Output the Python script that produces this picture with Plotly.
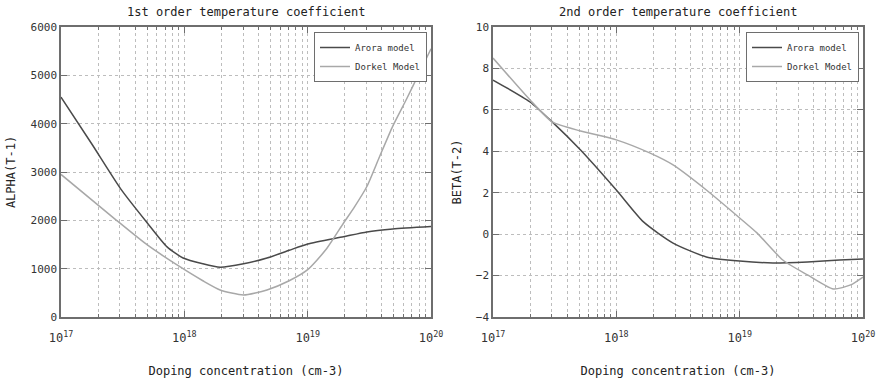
import numpy as np
import plotly.graph_objects as go

# ---- data (x given as log10 of doping concentration) ----
alpha_arora_exp = [17.0, 17.25, 17.49, 17.70, 17.86, 17.99, 18.15, 18.29, 18.48, 18.67, 18.85, 19.0, 19.29, 19.48, 19.69, 20.0]
alpha_arora = [4550, 3580, 2630, 1945, 1450, 1220, 1100, 1030, 1100, 1220, 1380, 1510, 1660, 1760, 1820, 1870]

alpha_dorkel_exp = [17.0, 17.45, 17.70, 17.97, 18.15, 18.29, 18.48, 18.67, 18.85, 19.0, 19.15, 19.29, 19.38, 19.48, 19.58, 19.69, 19.80, 19.89, 20.0]
alpha_dorkel = [2950, 2000, 1490, 1030, 750, 560, 455, 560, 750, 980, 1400, 1940, 2280, 2700, 3300, 3950, 4500, 4970, 5550]

beta_arora_exp = [17.0, 17.3, 17.48, 17.71, 18.0, 18.22, 18.46, 18.73, 19.0, 19.27, 19.55, 19.81, 20.0]
beta_arora = [7.44, 6.38, 5.42, 4.06, 2.13, 0.59, -0.43, -1.1, -1.3, -1.39, -1.34, -1.25, -1.2]

beta_dorkel_exp = [17.0, 17.3, 17.48, 17.71, 18.0, 18.27, 18.46, 18.73, 19.0, 19.14, 19.35, 19.55, 19.76, 19.9, 20.0]
beta_dorkel = [8.5, 6.48, 5.42, 4.98, 4.55, 3.92, 3.34, 2.13, 0.78, 0.06, -1.25, -1.97, -2.65, -2.45, -2.07]

decades = [17, 18, 19, 20]
series_names = ["Arora model", "Dorkel Model"]
titles = ["1st order temperature coefficient", "2nd order temperature coefficient"]
ytitles = ["ALPHA(T-1)", "BETA(T-2)"]
xtitle = "Doping concentration (cm-3)"

# ---- styling ----
FONT = "DejaVu Sans Mono"
C_AR = "#4a4a4a"
C_DO = "#a8a8a8"
AX = "#6e6e6e"
GRID = "#bdbdbd"

major_vals = [10.0 ** d for d in decades]
major_text = ["10<sup>%d</sup>" % d for d in decades]
minor_vals = [m * 10.0 ** d for d in decades[:-1] for m in range(2, 10)]

fig = go.Figure()

def xs(e):
    return [10.0 ** v for v in e]

line_kw = dict(width=1.5, shape="spline", smoothing=0.6)
fig.add_trace(go.Scatter(x=xs(alpha_arora_exp), y=alpha_arora, mode="lines", name=series_names[0],
                         line=dict(color=C_AR, **line_kw), xaxis="x", yaxis="y", legend="legend"))
fig.add_trace(go.Scatter(x=xs(alpha_dorkel_exp), y=alpha_dorkel, mode="lines", name=series_names[1],
                         line=dict(color=C_DO, **line_kw), xaxis="x", yaxis="y", legend="legend"))
fig.add_trace(go.Scatter(x=xs(beta_arora_exp), y=beta_arora, mode="lines", name=series_names[0],
                         line=dict(color=C_AR, **line_kw), xaxis="x2", yaxis="y2", legend="legend2"))
fig.add_trace(go.Scatter(x=xs(beta_dorkel_exp), y=beta_dorkel, mode="lines", name=series_names[1],
                         line=dict(color=C_DO, **line_kw), xaxis="x2", yaxis="y2", legend="legend2"))

ydom = [1 - 317 / 380, 1 - 27 / 380]
xdom1 = [61 / 878, 431 / 878]
xdom2 = [493 / 878, 863 / 878]

def xaxis(dom, anchor):
    return dict(domain=dom, anchor=anchor, type="log", automargin=False,
                range=[decades[0], decades[-1]],
                tickmode="array", tickvals=major_vals, ticktext=major_text,
                ticks="inside", ticklen=6, tickcolor=AX,
                ticklabelstandoff=9,
                showline=True, linecolor=AX, linewidth=1.5, mirror="ticks",
                showgrid=True, gridcolor=GRID, griddash="dot", gridwidth=1,
                minor=dict(tickmode="array", tickvals=minor_vals, ticks="inside", ticklen=3,
                           tickcolor=AX, showgrid=True, gridcolor=GRID, griddash="dot", gridwidth=1),
                zeroline=False,
                tickfont=dict(family=FONT, size=12, color="#333"),
                title=dict(text=xtitle, font=dict(family=FONT, size=12, color="#222"), standoff=22))

def yaxis(dom, anchor, rng, dt, title):
    return dict(domain=dom, anchor=anchor, range=rng, dtick=dt, tick0=0, automargin=False,
                ticks="inside", ticklen=6, tickcolor=AX,
                showline=True, linecolor=AX, linewidth=1.5, mirror="ticks",
                showgrid=True, gridcolor=GRID, griddash="dot", gridwidth=1,
                zeroline=False,
                tickfont=dict(family=FONT, size=11, color="#333"),
                title=dict(text=title, font=dict(family=FONT, size=12, color="#222"), standoff=12))

fig.update_layout(
    width=878, height=380,
    margin=dict(l=0, r=0, t=0, b=0, autoexpand=False),
    paper_bgcolor="white", plot_bgcolor="white",
    xaxis=xaxis(xdom1, "y"),
    yaxis=yaxis(ydom, "x", [0, 6000], 1000, ytitles[0]),
    xaxis2=xaxis(xdom2, "y2"),
    yaxis2=yaxis(ydom, "x2", [-4, 10], 2, ytitles[1]),
    legend=dict(x=427 / 878, y=1 - 32 / 380, xanchor="right", yanchor="top",
                bgcolor="white", bordercolor=AX, borderwidth=1,
                font=dict(family=FONT, size=9, color="#333"),
                itemwidth=30, tracegroupgap=0),
    legend2=dict(x=859 / 878, y=1 - 32 / 380, xanchor="right", yanchor="top",
                 bgcolor="white", bordercolor=AX, borderwidth=1,
                 font=dict(family=FONT, size=9, color="#333"),
                 itemwidth=30, tracegroupgap=0),
    showlegend=True,
    annotations=[
        dict(text=titles[0], x=(xdom1[0] + xdom1[1]) / 2, y=1 - 12 / 380, xref="paper", yref="paper",
             showarrow=False, font=dict(family=FONT, size=12, color="#222"),
             xanchor="center", yanchor="middle"),
        dict(text=titles[1], x=(xdom2[0] + xdom2[1]) / 2, y=1 - 12 / 380, xref="paper", yref="paper",
             showarrow=False, font=dict(family=FONT, size=12, color="#222"),
             xanchor="center", yanchor="middle"),
    ],
)

fig.write_html("out.html",
               config={"displayModeBar": False},
               post_script="document.body.style.margin='0';document.body.style.overflow='hidden';")
